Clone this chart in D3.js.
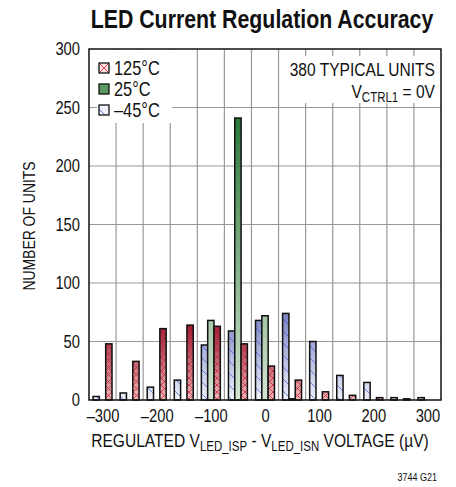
<!DOCTYPE html>
<html>
<head>
<meta charset="utf-8">
<script src="https://cdn.jsdelivr.net/npm/d3@7"></script>
<style>
  body { margin: 0; background: #fff; }
  text { font-family: "Liberation Sans", Arial, sans-serif; fill: #111; }
</style>
</head>
<body>
<script>
// histogram bins (bin centres, µV) and counts per temperature
var bins = [-300, -250, -200, -150, -100, -50, 0, 50, 100, 150, 200, 250, 300];
var cold45 = [3, 6, 11, 17, 47, 59, 68, 74, 50, 21, 15, 2, 2];
var room25 = [0, 0, 0, 0, 68, 241, 72, 1, 0, 0, 0, 0, 0];
var hot125 = [48, 33, 61, 64, 63, 48, 29, 17, 7, 4, 2, 1, 0];
var seriesNames = ['–45°C', '25°C', '125°C'];
var legendOrder = ['125°C', '25°C', '–45°C'];
var xTicks = [-300, -200, -100, 0, 100, 200, 300];
var yTicks = [0, 50, 100, 150, 200, 250, 300];

var W = 456, H = 487;
var pLeft = 89, pRight = 441, pTop = 49, pBottom = 400;
var SX = 0.82; // squeeze text horizontally, the original uses a condensed face

var svg = d3.select('body').append('svg')
  .attr('width', W)
  .attr('height', H);

var x = d3.scaleLinear().domain([-325, 325]).range([pLeft, pRight]);
var y = d3.scaleLinear().domain([0, 300]).range([pBottom, pTop]);
var step = x(50) - x(0);
var x1 = d3.scaleBand().domain(seriesNames).range([-step * 0.35, step * 0.35]);

// move x/y into a transform so the text can be squeezed
function cond(sel) {
  sel.each(function() {
    var t = d3.select(this);
    var tx = +t.attr('x') || 0, ty = +t.attr('y') || 0;
    var pre = t.attr('transform') || '';
    t.attr('x', null).attr('y', null)
      .attr('transform', pre + ' translate(' + tx + ',' + ty + ') scale(' + SX + ',1)');
  });
}

var defs = svg.append('defs');

function grad(id, stops, v0, v1) {
  var g = defs.append('linearGradient')
    .attr('id', id)
    .attr('gradientUnits', 'userSpaceOnUse')
    .attr('x1', 0).attr('x2', 0)
    .attr('y1', y(v0)).attr('y2', y(v1));
  g.append('stop').attr('offset', 0).attr('stop-color', stops[0]);
  g.append('stop').attr('offset', 1).attr('stop-color', stops[1]);
}
grad('gRed', ['#8e0a26', '#f2b8b8'], 70, 0);
grad('gGreen', ['#2a7636', '#d4e6d4'], 245, 0);
grad('gBlue', ['#747cbf', '#eef0fa'], 78, 0);

// crosshatch for 125°C
var pr = defs.append('pattern')
  .attr('id', 'pRed')
  .attr('patternUnits', 'userSpaceOnUse')
  .attr('width', 7).attr('height', 7);
pr.append('path').attr('d', 'M0,0L7,7M7,0L0,7')
  .attr('stroke', '#c8283c').attr('stroke-width', 0.8).attr('fill', 'none');

// diagonal for -45°C
var pb = defs.append('pattern')
  .attr('id', 'pBlue')
  .attr('patternUnits', 'userSpaceOnUse')
  .attr('width', 12).attr('height', 12);
pb.append('path').attr('d', 'M0,0L12,12M-6,6L6,18M6,-6L18,6')
  .attr('stroke', '#3a5ad8').attr('stroke-width', 0.7).attr('fill', 'none');

var fills = {
  '–45°C': { grad: 'url(#gBlue)', pat: 'url(#pBlue)' },
  '25°C': { grad: 'url(#gGreen)', pat: null },
  '125°C': { grad: 'url(#gRed)', pat: 'url(#pRed)' }
};

// grid
var grid = svg.append('g').attr('stroke', '#999').attr('stroke-width', 1.2);
grid.selectAll('line.v')
  .data(d3.range(-275, 300, 50))
  .enter().append('line')
  .attr('x1', function(d) { return x(d); })
  .attr('x2', function(d) { return x(d); })
  .attr('y1', pTop).attr('y2', pBottom);
grid.selectAll('line.h')
  .data([50, 100, 150, 200, 250])
  .enter().append('line')
  .attr('x1', pLeft).attr('x2', pRight)
  .attr('y1', function(d) { return y(d); })
  .attr('y2', function(d) { return y(d); });

// white boxes behind the legend and the note
svg.append('rect').attr('x', 97).attr('y', pTop + 1).attr('width', 75).attr('height', 73).attr('fill', '#fff');
svg.append('rect').attr('x', 280).attr('y', 56).attr('width', 160).attr('height', 47).attr('fill', '#fff');

// bars
var rows = [];
bins.forEach(function(b, i) {
  [[seriesNames[0], cold45[i]], [seriesNames[1], room25[i]], [seriesNames[2], hot125[i]]].forEach(function(s) {
    if (s[1] > 0) rows.push({ bin: b, name: s[0], value: s[1] });
  });
});

var bars = svg.append('g').selectAll('g')
  .data(rows)
  .enter().append('g');

function barAttrs(sel) {
  sel.attr('x', function(d) { return x(d.bin) + x1(d.name); })
    .attr('width', x1.bandwidth())
    .attr('y', function(d) { return y(d.value); })
    .attr('height', function(d) { return y(0) - y(d.value); });
}
bars.append('rect').call(barAttrs)
  .attr('fill', function(d) { return fills[d.name].grad; });
bars.filter(function(d) { return fills[d.name].pat; })
  .append('rect').call(barAttrs)
  .attr('fill', function(d) { return fills[d.name].pat; });
bars.append('rect').call(barAttrs)
  .attr('fill', 'none')
  .attr('stroke', '#111')
  .attr('stroke-width', 1.5);

// frame
svg.append('rect')
  .attr('x', pLeft).attr('y', pTop)
  .attr('width', pRight - pLeft).attr('height', pBottom - pTop)
  .attr('fill', 'none').attr('stroke', '#111').attr('stroke-width', 1.5);

// axes
var yAxis = d3.axisLeft(y).tickValues(yTicks).tickSize(0).tickPadding(9);
svg.append('g').attr('transform', 'translate(' + pLeft + ',0)')
  .call(yAxis)
  .call(function(g) { g.select('.domain').remove(); })
  .selectAll('text').attr('font-size', 18).style('font-family', null).call(cond);

var xAxis = d3.axisBottom(x).tickValues(xTicks).tickSize(0).tickPadding(9)
  .tickFormat(function(d) { return d < 0 ? '–' + Math.abs(d) : d; });
svg.append('g').attr('transform', 'translate(0,' + pBottom + ')')
  .call(xAxis)
  .call(function(g) { g.select('.domain').remove(); })
  .selectAll('text').attr('font-size', 18).style('font-family', null).call(cond);

// legend
var lg = svg.append('g').selectAll('g')
  .data(legendOrder)
  .enter().append('g')
  .attr('transform', function(d, i) { return 'translate(99,' + (63 + i * 21) + ')'; });
lg.append('rect').attr('width', 10).attr('height', 10)
  .attr('fill', function(d) { return d === '25°C' ? '#5a9a62' : (d === '125°C' ? '#f6dede' : '#eef0fa'); });
lg.filter(function(d) { return d === '125°C'; }).append('path')
  .attr('d', 'M0,0L10,10M10,0L0,10').attr('stroke', '#c8283c').attr('stroke-width', 0.8);
lg.filter(function(d) { return d === '–45°C'; }).append('path')
  .attr('d', 'M0,4L6,10').attr('stroke', '#3a5ad8').attr('stroke-width', 0.8);
lg.append('rect').attr('width', 10).attr('height', 10)
  .attr('fill', 'none').attr('stroke', '#111').attr('stroke-width', 1.3);
lg.append('text').attr('x', 15).attr('y', 12).attr('font-size', 20)
  .text(function(d) { return d; }).call(cond);

// note
svg.append('text').attr('x', 435).attr('y', 76).attr('text-anchor', 'end').attr('font-size', 19)
  .text('380 TYPICAL UNITS').call(cond);
var vt = svg.append('text').attr('x', 435).attr('y', 98).attr('text-anchor', 'end').attr('font-size', 19);
vt.append('tspan').text('V');
vt.append('tspan').attr('font-size', 14).attr('dy', 4).text('CTRL1');
vt.append('tspan').attr('dy', -4).text(' = 0V');
vt.call(cond);

// titles
svg.append('text').attr('x', 262).attr('y', 28).attr('text-anchor', 'middle')
  .attr('font-size', 26).attr('font-weight', 'bold')
  .text('LED Current Regulation Accuracy').call(cond);

svg.append('text')
  .attr('transform', 'translate(35,226) rotate(-90)')
  .attr('text-anchor', 'middle').attr('font-size', 17)
  .text('NUMBER OF UNITS').call(cond);

var xt = svg.append('text').attr('x', 260).attr('y', 447).attr('text-anchor', 'middle').attr('font-size', 19);
xt.append('tspan').text('REGULATED V');
xt.append('tspan').attr('font-size', 14).attr('dy', 4).text('LED_ISP');
xt.append('tspan').attr('dy', -4).text(' - V');
xt.append('tspan').attr('font-size', 14).attr('dy', 4).text('LED_ISN');
xt.append('tspan').attr('dy', -4).text(' VOLTAGE (µV)');
xt.call(cond);

svg.append('text').attr('x', 437).attr('y', 481).attr('text-anchor', 'end').attr('font-size', 11)
  .text('3744 G21').call(cond);
</script>
</body>
</html>
